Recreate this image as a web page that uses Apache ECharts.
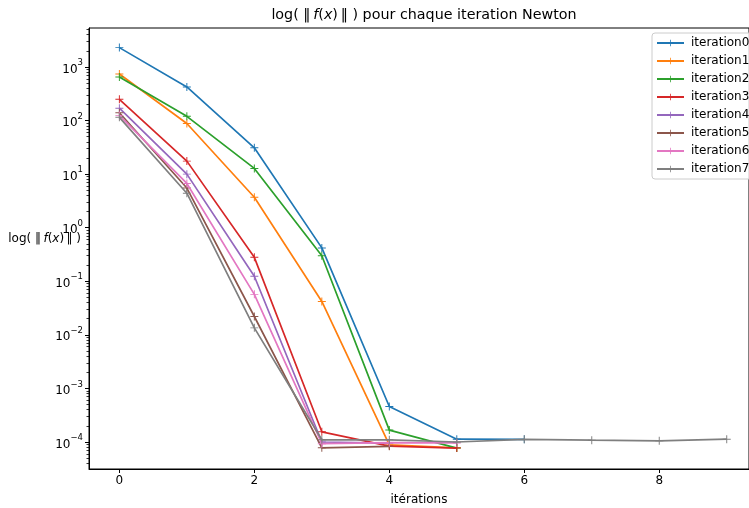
<!DOCTYPE html>
<html>
<head>
<meta charset="utf-8">
<script src="https://cdn.jsdelivr.net/npm/echarts@6/dist/echarts.min.js"></script>
<style>
  html, body { margin: 0; padding: 0; background: #ffffff; }
  #chart { width: 749px; height: 508px; }
</style>
</head>
<body>
<div id="chart"></div>
<script>
// Newton steps (x) and the residual norm ||f(x)|| reached at each step, one run per series
const steps = [0, 1, 2, 3, 4, 5, 6, 7, 8, 9];
const seriesNames = ['iteration0', 'iteration1', 'iteration2', 'iteration3',
                     'iteration4', 'iteration5', 'iteration6', 'iteration7'];
const iteration0 = [2300, 425, 31, 0.42, 4.6e-4, 1.13e-4, 1.12e-4];
const iteration1 = [740, 88, 3.7, 0.042, 8.8e-5, 7.8e-5];
const iteration2 = [650, 120, 12.8, 0.30, 1.67e-4, 7.7e-5];
const iteration3 = [250, 17.5, 0.28, 1.55e-4, 8.4e-5, 7.7e-5];
const iteration4 = [170, 10, 0.124, 1.0e-4, 9.5e-5];
const iteration5 = [140, 5.5, 0.022, 7.8e-5, 8.3e-5];
const iteration6 = [125, 6.7, 0.057, 9.3e-5, 9.7e-5, 9.6e-5];
const iteration7 = [115, 4.4, 0.0135, 1.1e-4, 1.1e-4, 1.0e-4, 1.12e-4, 1.08e-4, 1.05e-4, 1.13e-4];
const allRuns = [iteration0, iteration1, iteration2, iteration3,
                 iteration4, iteration5, iteration6, iteration7];

const xTickValues = [0, 2, 4, 6, 8];
const yMajorExponents = [-4, -3, -2, -1, 0, 1, 2, 3];

const palette = ['#1f77b4', '#ff7f0e', '#2ca02c', '#d62728',
                 '#9467bd', '#8c564b', '#e377c2', '#7f7f7f'];
const FONT = 'DejaVu Sans';

const yMajorValues = yMajorExponents.map(e => Math.pow(10, e));
const yMinorValues = [];
for (let e = -5; e <= 3; e++) {
  for (let k = 2; k <= 9; k++) yMinorValues.push(k * Math.pow(10, e));
}
const yMin = Math.pow(10, -4.504);
const yMax = Math.pow(10, 3.728);

// '+' marker drawn as two thin filled bars
const plusSymbol = 'path://M0,4.4H10V5.6H0Z M4.4,0H5.6V10H4.4Z';

const series = allRuns.map((vals, i) => ({
  name: seriesNames[i],
  type: 'line',
  yAxisIndex: 0,
  data: vals.map((v, j) => [steps[j], v]),
  symbol: plusSymbol,
  symbolSize: 8,
  showAllSymbol: true,
  lineStyle: { color: palette[i], width: 1.7 },
  itemStyle: { color: palette[i] },
  emphasis: { disabled: true },
  z: 2 + i
}));

function powLabel(value) {
  const e = Math.round(Math.log10(value));
  return '{b|10}{s|' + (e < 0 ? '\u2212' + (-e) : e) + '}';
}

const normLabel = 'log( \u2016\u2009{it|f}({it|x})\u2009\u2016 )';

const chart = echarts.init(document.getElementById('chart'), null, { renderer: 'canvas' });
chart.setOption({
  animation: false,
  backgroundColor: '#ffffff',
  textStyle: { fontFamily: FONT },
  title: {
    text: normLabel + ' pour chaque iteration Newton',
    left: 424,
    top: 8,
    padding: 0,
    textAlign: 'center',
    textStyle: {
      fontFamily: FONT, fontSize: 14.3, fontWeight: 'normal', color: '#000',
      rich: { it: { fontFamily: FONT, fontSize: 14.3, fontStyle: 'italic', color: '#000' } }
    }
  },
  legend: {
    orient: 'vertical',
    left: 652,
    top: 33,
    padding: [4, 6, 4, 4],
    itemWidth: 27,
    itemHeight: 8,
    itemGap: 6,
    backgroundColor: 'rgba(255,255,255,0.8)',
    borderColor: '#cccccc',
    borderWidth: 1,
    borderRadius: 3,
    textStyle: { fontFamily: FONT, fontSize: 12, color: '#000', padding: [0, 0, 0, 2] },
    data: seriesNames
  },
  grid: {
    left: 89, right: 0, top: 28, bottom: 39,
    outerBoundsMode: 'none',
    containLabel: false,
    show: true, borderColor: '#000', borderWidth: 1, backgroundColor: 'transparent'
  },
  xAxis: {
    type: 'value',
    min: -0.45,
    max: 9.33,
    name: 'itérations',
    nameLocation: 'middle',
    nameGap: 25,
    nameMoveOverlap: false,
    nameTextStyle: { fontFamily: FONT, fontSize: 12, color: '#000' },
    axisLine: { show: true, onZero: false, lineStyle: { color: '#000', width: 1 } },
    axisTick: { show: true, length: 4, customValues: xTickValues, lineStyle: { color: '#000' } },
    axisLabel: { customValues: xTickValues, margin: 6, fontFamily: FONT, fontSize: 12, color: '#000' },
    splitLine: { show: false }
  },
  yAxis: [
    {
      type: 'log',
      logBase: 10,
      min: yMin,
      max: yMax,
      position: 'left',
      axisLine: { show: true, onZero: false, lineStyle: { color: '#000', width: 1 } },
      axisTick: { show: true, length: 4, customValues: yMajorValues, lineStyle: { color: '#000' } },
      axisLabel: {
        customValues: yMajorValues,
        margin: 6,
        formatter: powLabel,
        rich: {
          b: { fontFamily: FONT, fontSize: 12, color: '#000', lineHeight: 17, verticalAlign: 'bottom' },
          s: { fontFamily: FONT, fontSize: 8.5, color: '#000', lineHeight: 17, verticalAlign: 'top' }
        }
      },
      splitLine: { show: false }
    },
    {
      type: 'log',
      logBase: 10,
      min: yMin,
      max: yMax,
      position: 'left',
      axisLine: { show: false, onZero: false },
      axisTick: { show: true, length: 2.5, customValues: yMinorValues, lineStyle: { color: '#000', width: 0.8 } },
      axisLabel: { show: false },
      splitLine: { show: false }
    }
  ],
  graphic: [
    {
      type: 'text',
      x: 81,
      y: 239,
      silent: true,
      style: {
        text: normLabel,
        align: 'right',
        verticalAlign: 'middle',
        fontFamily: FONT,
        fontSize: 12,
        fill: '#000',
        rich: { it: { fontFamily: FONT, fontSize: 12, fontStyle: 'italic', fill: '#000' } }
      }
    }
  ],
  series: series
});
</script>
</body>
</html>
